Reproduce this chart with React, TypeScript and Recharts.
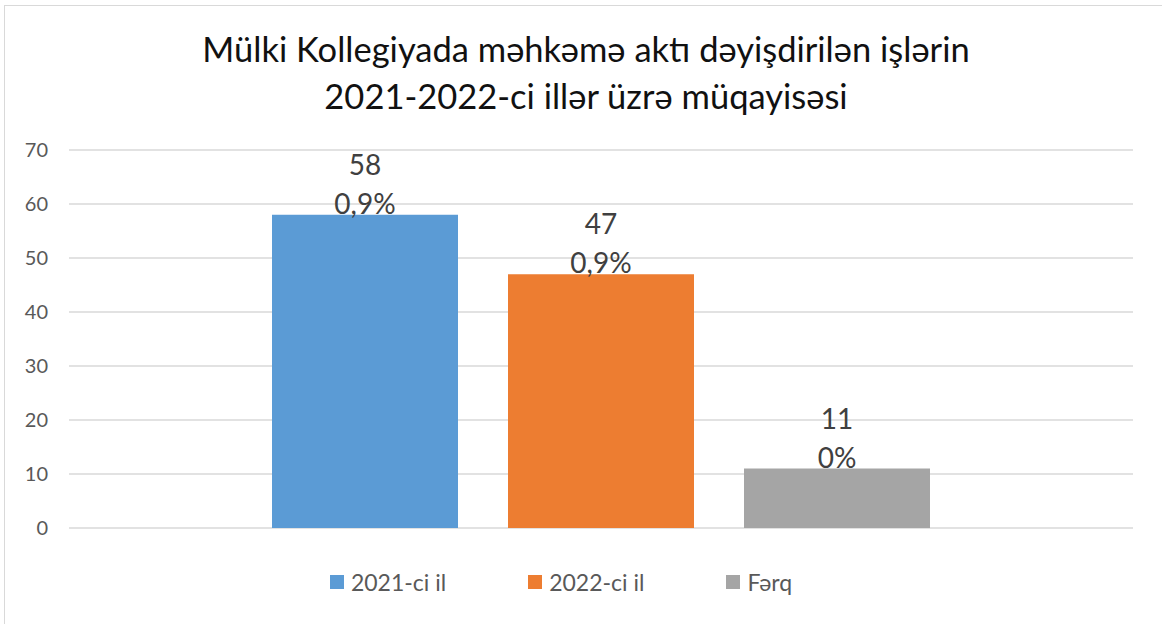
import { Bar, BarChart, CartesianGrid, LabelList, XAxis, YAxis } from "recharts";

const categories = [""];
const seriesNames = ["2021-ci il", "2022-ci il", "Fərq"];
const seriesValues = [58, 47, 11];
const seriesShares = ["0,9%", "0,9%", "0%"];
const seriesColors = ["#5B9BD5", "#ED7D31", "#A5A5A5"];
const yTicks = [0, 10, 20, 30, 40, 50, 60, 70];
const titleLines = [
    "Mülki Kollegiyada məhkəmə aktı dəyişdirilən işlərin",
    "2021-2022-ci illər üzrə müqayisəsi",
];

const FONT = "Lato, 'Open Sans', sans-serif";

const data = categories.map((name) => {
    const row: Record<string, string | number> = { name };
    seriesValues.forEach((v, i) => {
        row[`s${i}`] = v;
    });
    return row;
});

function makeLabel(index: number) {
    return (props: any) => {
        const { x, y, width, value } = props;
        const cx = Number(x) + Number(width) / 2;
        return (
            <text x={cx} y={Number(y)} textAnchor="middle" fill="#404040" fontSize={28} fontFamily={FONT}>
                <tspan x={cx} dy={-40}>{value}</tspan>
                <tspan x={cx} dy={39}>{seriesShares[index]}</tspan>
            </text>
        );
    };
}

function ChartLegend() {
    return (
        <div
            style={{
                position: "absolute",
                top: 568,
                left: -20,
                width: 1162,
                display: "flex",
                justifyContent: "center",
                gap: 82,
                fontFamily: FONT,
                fontSize: 23,
                color: "#595959",
            }}
        >
            {seriesNames.map((n, i) => (
                <div key={n} style={{ display: "flex", alignItems: "center", gap: 7 }}>
                    <span style={{ width: 14, height: 14, background: seriesColors[i], display: "inline-block" }} />
                    <span>{n}</span>
                </div>
            ))}
        </div>
    );
}

export default function App() {
    return (
        <div style={{ position: "absolute", left: 0, top: 0, width: 1162, height: 624, background: "#fff", overflow: "hidden" }}>
            <div
                style={{
                    position: "absolute",
                    left: 4,
                    top: 5,
                    width: 1170,
                    height: 640,
                    borderTop: "1.5px solid #d9d9d9",
                    borderLeft: "1.5px solid #d9d9d9",
                }}
            />
            <div
                style={{
                    position: "absolute",
                    top: 25,
                    left: 0,
                    width: 1162,
                    textAlign: "center",
                    fontFamily: FONT,
                    fontSize: 34.5,
                    lineHeight: "47px",
                    color: "#111",
                    marginLeft: 5,
                }}
            >
                {titleLines.map((t) => (
                    <div key={t}>{t}</div>
                ))}
            </div>
            <div style={{ position: "absolute", left: 0, top: 0 }}>
                <BarChart
                    width={1162}
                    height={624}
                    data={data}
                    margin={{ top: 150, right: 29, left: 0, bottom: 96 }}
                    barGap={50}
                    barSize={186}
                >
                    <CartesianGrid vertical={false} stroke="#d9d9d9" strokeWidth={1.3} />
                    <XAxis dataKey="name" hide height={0} />
                    <YAxis
                        width={69}
                        domain={[0, 70]}
                        ticks={yTicks}
                        axisLine={false}
                        tickLine={false}
                        tickSize={0}
                        tickMargin={21}
                        tick={{ fill: "#595959", fontSize: 20, fontFamily: FONT }}
                    />
                    {seriesNames.map((n, i) => (
                        <Bar key={n} dataKey={`s${i}`} name={n} fill={seriesColors[i]} isAnimationActive={false}>
                            <LabelList dataKey={`s${i}`} content={makeLabel(i)} />
                        </Bar>
                    ))}
                </BarChart>
            </div>
            <ChartLegend />
        </div>
    );
}
